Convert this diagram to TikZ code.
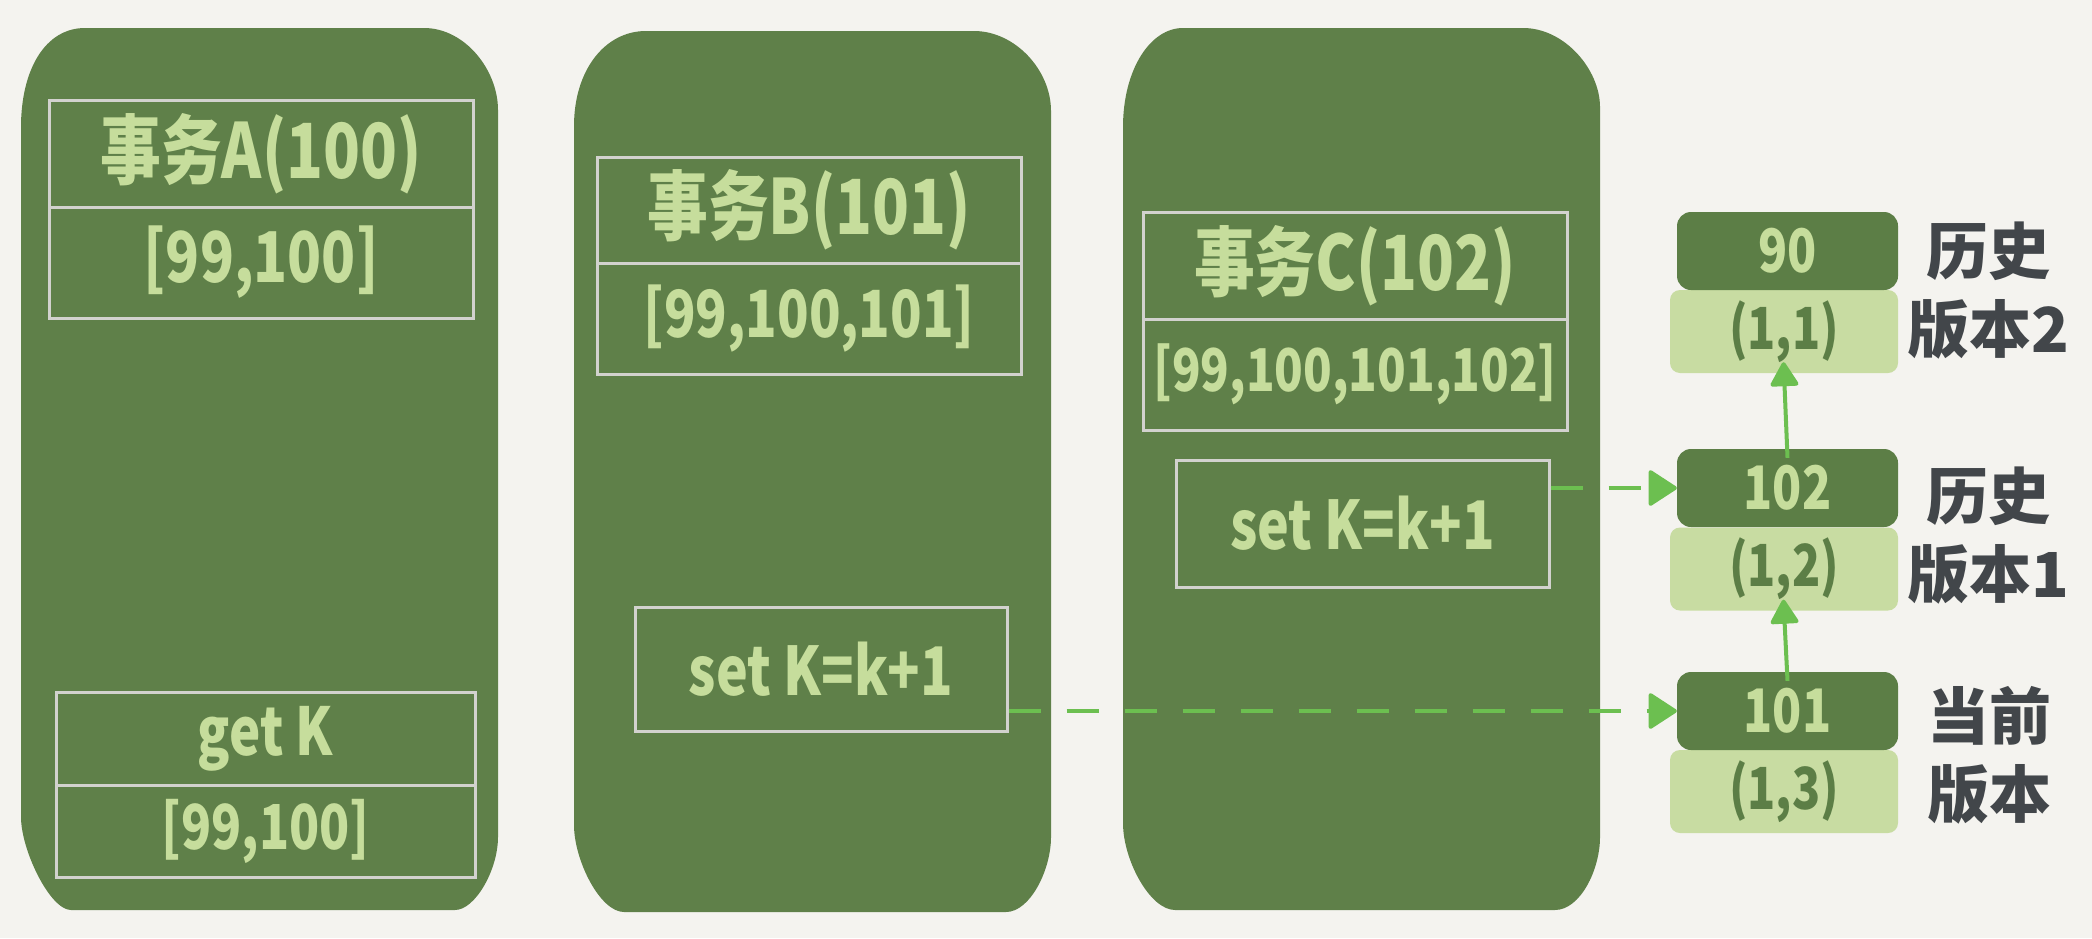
\documentclass[tikz,border=0pt]{standalone}
\usepackage{fontspec}
\usetikzlibrary{arrows.meta}
\newfontfamily\hand[FakeStretch=0.8]{Noto Sans CJK SC}
\newfontfamily\cjklabel{Noto Sans CJK SC}
\definecolor{bg}{HTML}{F4F3EF}
\definecolor{panelgreen}{HTML}{5F8049}
\definecolor{boxline}{HTML}{D2D2CE}
\definecolor{handtext}{HTML}{C6DD9C}
\definecolor{darkver}{HTML}{5C7E46}
\definecolor{lightver}{HTML}{C8DCA2}
\definecolor{arrowgreen}{HTML}{6CBF50}
\definecolor{labelgray}{HTML}{42464A}
\tikzset{
  panel/.style={fill=panelgreen},
  txbox/.style={draw=boxline, line width=3pt, inner sep=0pt, text=handtext,
    font=\hand\bfseries\fontsize{#1}{#1}\selectfont},
  verdark/.style={fill=darkver, rounded corners=14pt, inner sep=0pt, text=handtext,
    font=\hand\bfseries\fontsize{60}{60}\selectfont, minimum width=221pt, minimum height=78pt},
  verlight/.style={fill=lightver, rounded corners=10pt, inner sep=0pt, text=darkver,
    font=\hand\bfseries\fontsize{58}{58}\selectfont, minimum width=228pt, minimum height=83pt},
  vlabel/.style={text=labelgray, font=\cjklabel\bfseries\fontsize{62}{78}\selectfont, align=center, inner sep=0pt},
  dasharrow/.style={draw=arrowgreen, line width=4pt, dash pattern=on 32pt off 26pt,
    -{Triangle[length=30pt,width=38pt,round]}},
  uparrow/.style={draw=arrowgreen, line width=4pt,
    -{Triangle[length=26pt,width=30pt,round]}, shorten >=-11pt},
}
\begin{document}
\begin{tikzpicture}[x=1pt,y=-1pt]
\fill[bg] (0,0) rectangle (2092,938);
\useasboundingbox (0,0) rectangle (2092,938);

% panels
\path[panel] (21,127) .. controls (21,70) and (45,28) .. (85,28) -- (424,28)
  .. controls (465,28) and (498,70) .. (498,110) -- (498,837)
  .. controls (498,870) and (475,910) .. (455,910) -- (71,910)
  .. controls (50,910) and (21,850) .. (21,817) -- cycle;
\path[panel] (574,126) .. controls (574,70) and (605,31) .. (646,31) -- (974,31)
  .. controls (1015,31) and (1051,70) .. (1051,111) -- (1051,837)
  .. controls (1051,870) and (1030,912) .. (1006,912) -- (624,912)
  .. controls (600,912) and (574,860) .. (574,825) -- cycle;
\path[panel] (1123,127) .. controls (1123,70) and (1150,28) .. (1183,28) -- (1523,28)
  .. controls (1565,28) and (1600,70) .. (1600,107) -- (1600,837)
  .. controls (1600,870) and (1580,910) .. (1555,910) -- (1175,910)
  .. controls (1150,910) and (1123,860) .. (1123,823) -- cycle;

% transaction A
\node[txbox=76, minimum width=424pt, minimum height=107pt] (A1) at (261,153.5) {事务A(100)};
\node[txbox=70, minimum width=424pt, minimum height=111pt] (A2) at (261,262.5) {[99,100]};
\node[txbox=66, minimum width=419pt, minimum height=93pt] (A3) at (265.5,738.5) {get K};
\node[txbox=62, minimum width=419pt, minimum height=92pt] (A4) at (265.5,831) {[99,100]};

% transaction B
\node[txbox=76, minimum width=424pt, minimum height=106pt] (B1) at (809,210) {事务B(101)};
\node[txbox=65, minimum width=424pt, minimum height=111pt] (B2) at (809,318.5) {[99,100,101]};
\node[txbox=67, minimum width=372pt, minimum height=124pt] (setB) at (821,669) {set K=k+1};

% transaction C
\node[txbox=76, minimum width=424pt, minimum height=107pt] (C1) at (1355,265.5) {事务C(102)};
\node[txbox=59, minimum width=424pt, minimum height=111pt] (C2) at (1355,374.5) {[99,100,101,102]};
\node[txbox=67, minimum width=373pt, minimum height=127pt] (setC) at (1362.5,523.5) {set K=k+1};

% versions
\node[verlight] (L90) at (1784,331.5) {(1,1)};
\node[verdark] (V90) at (1787.5,251) {90};
\node[verlight] (L102) at (1784,569) {(1,2)};
\node[verdark] (V102) at (1787.5,488) {102};
\node[verlight] (L101) at (1784,791.5) {(1,3)};
\node[verdark] (V101) at (1787.5,711) {101};

% labels
\node[vlabel] (lab90) at (1988,290.5) {历史\\版本2};
\node[vlabel] (lab102) at (1988,535.5) {历史\\版本1};
\node[vlabel] (lab101) at (1989,755.5) {当前\\版本};

% connectors
\draw[dasharrow] (setC.east |- V102.west) -- (V102.west);
\draw[dasharrow] (setB.east |- V101.west) -- (V101.west);
\draw[uparrow] ([yshift=-9pt]V102.north) -- (L90.south);
\draw[uparrow] ([yshift=-9pt]V101.north) -- (L102.south);
\end{tikzpicture}
\end{document}
